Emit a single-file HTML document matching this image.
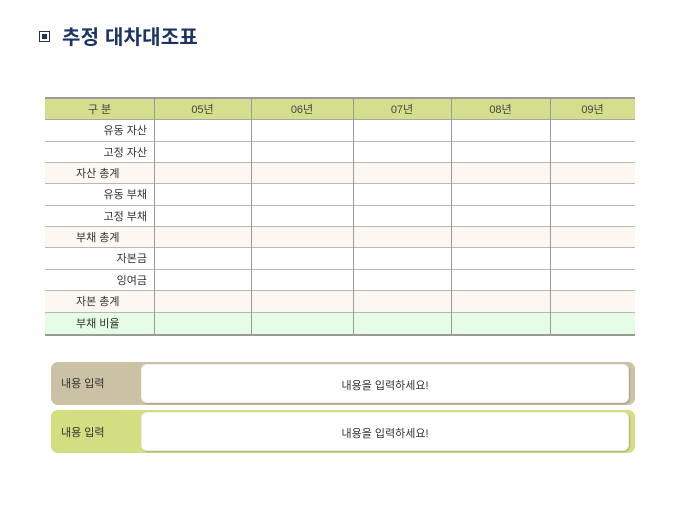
<!DOCTYPE html>
<html><head><meta charset="utf-8"><style>
*{margin:0;padding:0;box-sizing:border-box}
body{width:680px;height:510px;background:#fff;position:relative;overflow:hidden;font-family:"Liberation Sans","Noto Sans CJK KR","NanumGothic",sans-serif;color:#333}
.a{position:absolute}
.sq{left:39px;top:31px;width:11px;height:11px;border:1.5px solid #1c3461;background:#fff}
.sq i{position:absolute;left:2px;top:2px;width:5px;height:5px;background:#1c3461}
.title{left:62px;top:26px;font-size:20px;font-weight:bold;color:#1c3461;line-height:24px;letter-spacing:0.2px}
.row{position:absolute;left:45px;width:590px;border-bottom:1px solid #b8b8b8}
.lab{position:absolute;left:0;top:0;width:109px;font-size:11px;line-height:23px;white-space:nowrap}
.r{text-align:right;padding-right:7px}
.l{padding-left:31px}
.hd{position:absolute;font-size:11px;text-align:center;color:#444;line-height:22px;top:99px}
.vl{position:absolute;top:99px;height:236px;width:1px;background:#9a9a9a}
.box{position:absolute;left:51px;width:584px;height:43px;border-radius:7px}
.inner{position:absolute;left:90px;top:2px;width:488px;height:39px;background:#fff;border-radius:6px;box-shadow:1px 1px 1px rgba(0,0,0,0.18);border:1px solid #f0f0f0}
.bl{position:absolute;left:10px;font-size:11px;color:#333;line-height:16px}
.ct{position:absolute;left:0;width:100%;text-align:center;font-size:11px;color:#333;line-height:16px}
</style></head><body>
<div class="a sq"><i></i></div>
<div class="a title">추정 대차대조표</div>

<div class="a" style="left:45px;top:97px;width:590px;height:2px;background:#9a9a9a"></div>
<div class="a" style="left:45px;top:99px;width:590px;height:21px;background:#d5de8c;border-bottom:1px solid #a8a8a8"></div>
<div class="hd" style="left:45px;width:109px">구 분</div>
<div class="hd" style="left:154px;width:97px">05년</div>
<div class="hd" style="left:251px;width:102px">06년</div>
<div class="hd" style="left:353px;width:98px">07년</div>
<div class="hd" style="left:451px;width:99px">08년</div>
<div class="hd" style="left:550px;width:85px">09년</div>

<div class="row" style="top:120px;height:22px;background:#fff"><div class="lab r">유동 자산</div></div>
<div class="row" style="top:142px;height:21px;background:#fff"><div class="lab r">고정 자산</div></div>
<div class="row" style="top:163px;height:21px;background:#fcf8f1"><div class="lab l">자산 총계</div></div>
<div class="row" style="top:184px;height:22px;background:#fff"><div class="lab r">유동 부채</div></div>
<div class="row" style="top:206px;height:21px;background:#fff"><div class="lab r">고정 부채</div></div>
<div class="row" style="top:227px;height:21px;background:#fcf8f1"><div class="lab l">부채 총계</div></div>
<div class="row" style="top:248px;height:22px;background:#fff"><div class="lab r">자본금</div></div>
<div class="row" style="top:270px;height:21px;background:#fff"><div class="lab r">잉여금</div></div>
<div class="row" style="top:291px;height:22px;background:#fcf8f1"><div class="lab l">자본 총계</div></div>
<div class="row" style="top:313px;height:21px;background:#e4fde4;border-bottom:none"><div class="lab l">부채 비율</div></div>
<div class="a" style="left:45px;top:334px;width:590px;height:2px;background:#9a9a9a"></div>

<div class="vl" style="left:154px"></div>
<div class="vl" style="left:251px"></div>
<div class="vl" style="left:353px"></div>
<div class="vl" style="left:451px"></div>
<div class="vl" style="left:550px"></div>

<div class="box" style="top:362px;background:#cbc2a6">
  <div class="bl" style="top:14px">내용 입력</div>
  <div class="inner"><div class="ct" style="top:13px">내용을 입력하세요!</div></div>
</div>
<div class="box" style="top:410px;background:#d3dd82">
  <div class="bl" style="top:15px">내용 입력</div>
  <div class="inner"><div class="ct" style="top:13px">내용을 입력하세요!</div></div>
</div>
</body></html>
